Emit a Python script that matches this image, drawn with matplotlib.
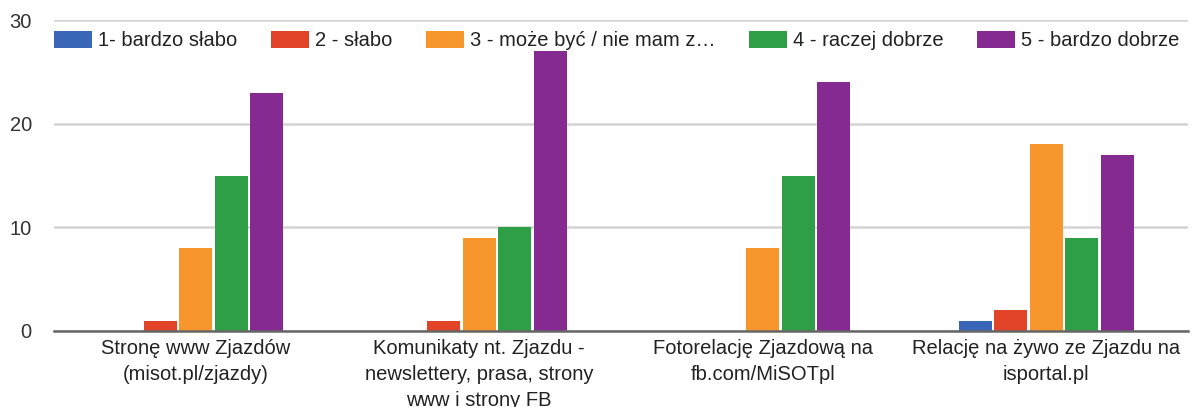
import numpy as np
import matplotlib
matplotlib.use("Agg")
import matplotlib.pyplot as plt

plt.rcParams['font.family'] = ['Liberation Sans', 'DejaVu Sans']

# dane
kategorie = [
    "Stronę www Zjazdów\n(misot.pl/zjazdy)",
    "Komunikaty nt. Zjazdu -\nnewslettery, prasa, strony\nwww i strony FB",
    "Fotorelację Zjazdową na\nfb.com/MiSOTpl",
    "Relację na żywo ze Zjazdu na\nisportal.pl",
]
serie = [
    "1- bardzo słabo",
    "2 - słabo",
    "3 - może być / nie mam z…",
    "4 - raczej dobrze",
    "5 - bardzo dobrze",
]
bardzo_slabo = [0, 0, 0, 1]
slabo = [1, 1, 0, 2]
moze_byc = [8, 9, 8, 18]
raczej_dobrze = [15, 10, 15, 9]
bardzo_dobrze = [23, 27, 24, 17]
wartosci = [bardzo_slabo, slabo, moze_byc, raczej_dobrze, bardzo_dobrze]
kolory = ['#3a66b7', '#e2442a', '#f7962c', '#2e9f46', '#852a90']

fig = plt.figure(figsize=(11.94, 4.07), dpi=100)
ax = fig.add_axes([54 / 1194, 1 - 331 / 407, 1134 / 1194, 311 / 407])

x = np.arange(len(kategorie))
krok = 0.125
szer = 0.117
for i, (nazwa, vals, kol) in enumerate(zip(serie, wartosci, kolory)):
    ax.bar(x + (i - 2) * krok, vals, width=szer, color=kol, label=nazwa, zorder=3)

ax.set_xlim(-0.5, 3.5)
ax.set_ylim(0, 30)
ax.set_yticks([0, 10, 20, 30])
ax.set_xticks(x)
ax.set_xticklabels(kategorie, fontsize=14.5, color='#222222', linespacing=1.45)
ax.tick_params(axis='y', length=0, pad=16, labelsize=14.5, labelcolor='#333333')
ax.tick_params(axis='x', length=0, pad=6)
ax.yaxis.grid(True, color='#d4d4d4', linewidth=1.8, zorder=0)
ax.set_axisbelow(True)
for s in ['top', 'right', 'left']:
    ax.spines[s].set_visible(False)
ax.spines['bottom'].set_color('#666666')
ax.spines['bottom'].set_linewidth(1.8)
ax.spines['bottom'].set_zorder(4)

ax.legend(loc='center left', bbox_to_anchor=(0, 0.9325), ncol=5, frameon=False,
          fontsize=14.5, handlelength=1.9, handleheight=0.85, handletextpad=0.3,
          columnspacing=1.65, borderaxespad=0, borderpad=0, labelcolor='#222222')

fig.savefig('out.png', dpi=100)
